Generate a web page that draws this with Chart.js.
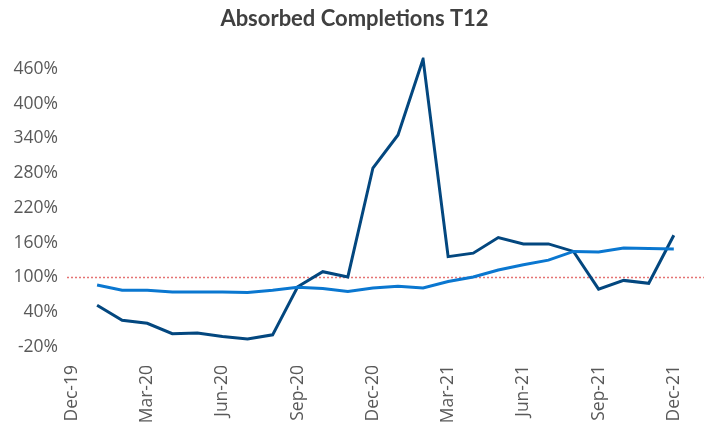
<!DOCTYPE html>
<html>
<head>
<meta charset="utf-8">
<script src="https://cdn.jsdelivr.net/npm/chart.js@4"></script>
<style>
  html, body { margin: 0; padding: 0; background: #fff; }
  #wrap { width: 713px; height: 426px; }
</style>
</head>
<body>
<div id="wrap"><canvas id="absorbChart"></canvas></div>
<script>
// setup block
const months = [
  "Dec-19", "Jan-20", "Feb-20", "Mar-20", "Apr-20", "May-20", "Jun-20", "Jul-20", "Aug-20",
  "Sep-20", "Oct-20", "Nov-20", "Dec-20", "Jan-21", "Feb-21", "Mar-21", "Apr-21", "May-21",
  "Jun-21", "Jul-21", "Aug-21", "Sep-21", "Oct-21", "Nov-21", "Dec-21"
];
const tickMonths = [0, 3, 6, 9, 12, 15, 18, 21, 24];

// % values, Dec-19 has no data
const absorbedT12 = [
  null, 52, 26, 21, 3, 4, -2, -6, 1, 84, 110, 101, 289, 346, 477,
  136, 142, 169, 158, 158, 145, 80, 95, 90, 173
];
const completionsT12 = [
  null, 87, 78, 78, 75, 75, 75, 74, 78, 83, 81, 76, 82, 85, 82,
  93, 101, 113, 122, 130, 145, 144, 151, 150, 149
];
const yTicks = [-20, 40, 100, 160, 220, 280, 340, 400, 460];
const breakEven = 100;

const toPoints = (arr) => arr.map((v, i) => ({ x: i, y: v }));

// red dotted 100% line
const breakEvenLine = {
  id: "breakEvenLine",
  beforeDatasetsDraw(chart) {
    const { ctx, chartArea, scales } = chart;
    const y = Math.round(scales.y.getPixelForValue(breakEven)) + 0.5;
    ctx.save();
    ctx.strokeStyle = "#e57373";
    ctx.lineWidth = 1.5;
    ctx.setLineDash([2, 2]);
    ctx.beginPath();
    ctx.moveTo(chartArea.left, y);
    ctx.lineTo(chartArea.right, y);
    ctx.stroke();
    ctx.restore();
  },
};

const data = {
  datasets: [
    {
      label: "Completions",
      data: toPoints(completionsT12),
      borderColor: "#0a77d0",
      backgroundColor: "#0a77d0",
      borderWidth: 3,
      pointRadius: 0,
      tension: 0,
    },
    {
      label: "Absorbed",
      data: toPoints(absorbedT12),
      borderColor: "#03477f",
      backgroundColor: "#03477f",
      borderWidth: 3,
      pointRadius: 0,
      tension: 0,
    },
  ],
};

const tickFont = { family: "Open Sans", size: 17.5 };

// config block
const config = {
  type: "line",
  data,
  plugins: [breakEvenLine],
  options: {
    responsive: true,
    maintainAspectRatio: false,
    animation: false,
    layout: { padding: { left: 0, right: 4, top: 0, bottom: 0 } },
    plugins: {
      legend: { display: false },
      tooltip: { enabled: false },
      title: {
        display: true,
        text: "Absorbed Completions T12",
        color: "#404040",
        font: { family: "Lato", size: 22, weight: "bold" },
        padding: { top: 6, bottom: 25 },
      },
    },
    scales: {
      x: {
        type: "linear",
        min: -0.2,
        max: 25.2,
        grid: { display: false, drawTicks: false },
        border: { display: false },
        afterBuildTicks: (axis) => {
          axis.ticks = tickMonths.map((v) => ({ value: v }));
        },
        afterFit: (axis) => {
          axis.height = 79;
        },
        ticks: {
          autoSkip: false,
          minRotation: 90,
          maxRotation: 90,
          padding: 18,
          color: "#595959",
          font: tickFont,
          callback: (v) => months[v],
        },
      },
      y: {
        min: -20,
        max: 480,
        grid: { display: false, drawTicks: false },
        border: { display: false },
        afterBuildTicks: (axis) => {
          axis.ticks = yTicks.map((v) => ({ value: v }));
        },
        afterFit: (axis) => {
          axis.width = 67;
        },
        ticks: {
          padding: 9,
          color: "#595959",
          font: tickFont,
          callback: (v) => v + "%",
        },
      },
    },
  },
};

// render / init block
const absorbChart = new Chart(document.getElementById("absorbChart"), config);
</script>
</body>
</html>
